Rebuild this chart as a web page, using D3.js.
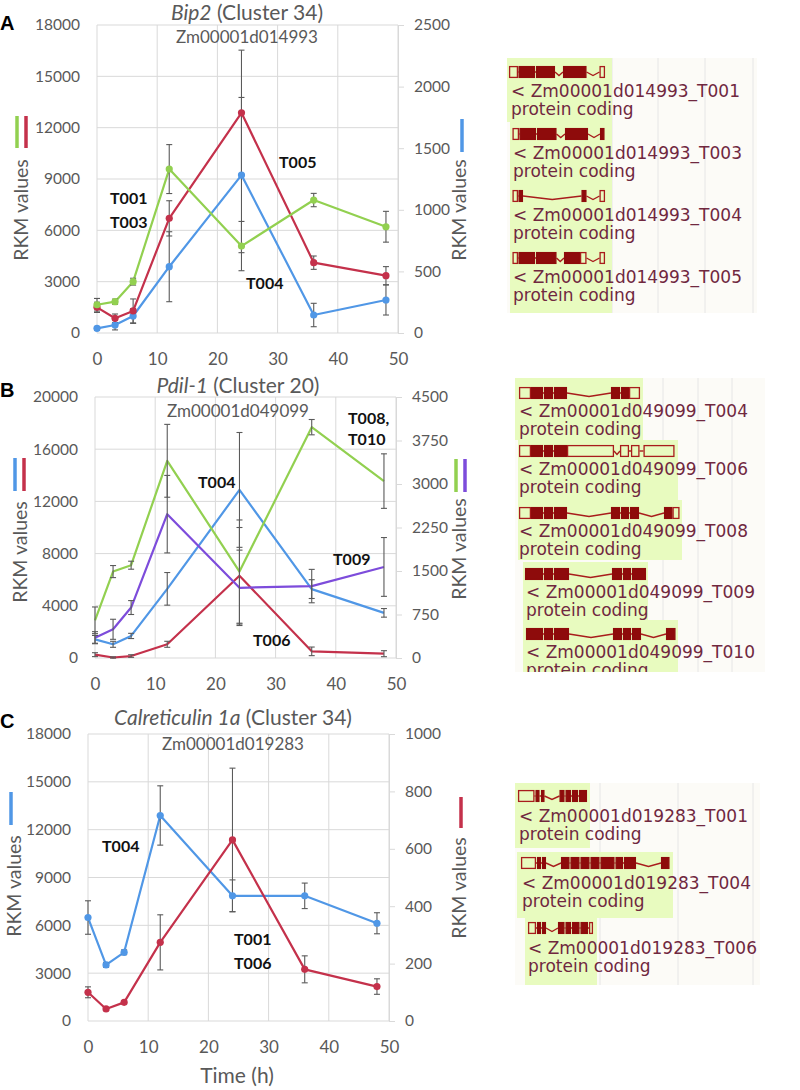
<!DOCTYPE html>
<html>
<head>
<meta charset="utf-8">
<script src="https://cdn.jsdelivr.net/npm/d3@7"></script>
<style>
  body { margin: 0; background: #fff; }
  svg text { font-family: Lato, "Open Sans", sans-serif; }
</style>
</head>
<body>
<svg id="fig" width="800" height="1090"></svg>
<script>
// ---------- data ----------
const hours = [0, 3, 6, 12, 24, 36, 48];
const xTicks = [0, 10, 20, 30, 40, 50];

// A  Bip2 (Zm00001d014993)
const bipT001 = [1650, 1830, 3000, 9580, 5080, 7770, 6210];
const bipT001Err = [370, 150, 200, 1430, 1440, 390, 900];
const bipT003 = [1500, 860, 1290, 6700, 12870, 4110, 3350];
const bipT003Err = [300, 250, 700, 1030, 3660, 390, 530];
const bipT004 = [38, 65, 138, 538, 1282, 146, 268];      // right axis
const bipT004Err = [15, 40, 60, 284, 630, 95, 122];
const bipLeftTicks = [0, 3000, 6000, 9000, 12000, 15000, 18000];
const bipRightTicks = [0, 500, 1000, 1500, 2000, 2500];

// B  Pdil-1 (Zm00001d049099)
const pdiT004 = [1430, 1050, 1690, 5300, 12880, 5280, 3460];
const pdiT004Err = [300, 230, 200, 1250, 4400, 720, 330];
const pdiT006 = [256, 40, 150, 1050, 6300, 510, 330];
const pdiT006Err = [150, 50, 100, 230, 3700, 330, 230];
const pdiT008 = [650, 1490, 1600, 3400, 1490, 3980, 3050];  // right axis
const pdiT008Err = [230, 104, 69, 628, 890, 132, 470];
const pdiT009 = [350, 495, 870, 2480, 1210, 1240, 1570];    // right axis
const pdiT009Err = [104, 173, 120, 668, 650, 288, 507];
const pdiLeftTicks = [0, 4000, 8000, 12000, 16000, 20000];
const pdiRightTicks = [0, 750, 1500, 2250, 3000, 3750, 4500];

// C  Calreticulin 1a (Zm00001d019283)
const crtT004 = [6490, 3520, 4310, 12890, 7850, 7850, 6130];
const crtT004Err = [1050, 150, 150, 1860, 1000, 800, 660];
const crtT001 = [100, 42, 65, 274, 631, 180, 120];          // right axis
const crtT001Err = [19, 5, 5, 96, 250, 47, 27];
const crtLeftTicks = [0, 3000, 6000, 9000, 12000, 15000, 18000];
const crtRightTicks = [0, 200, 400, 600, 800, 1000];

// gene models: [kind, start, end]  (u = UTR, c = coding exon)
const bipModels = [
  { id: 'Zm00001d014993_T001', parts: [['u', 0, 9], ['c', 9.5, 26], ['c', 27, 46], ['c', 54, 77.5], ['u', 90.5, 96]] },
  { id: 'Zm00001d014993_T003', parts: [['u', 3.5, 10], ['c', 10.5, 27], ['c', 28, 47.5], ['c', 56, 79], ['c', 91, 95.5]] },
  { id: 'Zm00001d014993_T004', parts: [['u', 3.5, 9], ['c', 9.5, 14], ['c', 72.5, 77.5], ['u', 90.5, 96]] },
  { id: 'Zm00001d014993_T005', parts: [['u', 3.5, 9], ['c', 9.5, 26], ['c', 27, 47.5], ['c', 55, 71], ['u', 71, 77.5], ['u', 90.5, 96]] }
];
const pdiModels = [
  { id: 'Zm00001d049099_T004', parts: [['u', 1, 13], ['c', 13, 25], ['c', 26, 35], ['c', 36, 49], ['c', 93, 102], ['c', 103, 111], ['u', 111, 122]] },
  { id: 'Zm00001d049099_T006', parts: [['u', 1, 13], ['c', 13, 25], ['c', 26, 35], ['c', 36, 49], ['u', 49, 96], ['u', 102, 111], ['u', 113, 121.5], ['u', 125.5, 156.5]] },
  { id: 'Zm00001d049099_T008', parts: [['u', 1, 13], ['c', 13, 25], ['c', 26, 35], ['c', 36, 49], ['c', 93, 102], ['c', 103, 111], ['c', 112, 121], ['c', 146, 154.5], ['u', 154.5, 161.5]] },
  { id: 'Zm00001d049099_T009', parts: [['c', 7, 25], ['c', 26, 35], ['c', 36, 51], ['c', 94, 104], ['c', 105, 113], ['c', 114, 128]] },
  { id: 'Zm00001d049099_T010', parts: [['c', 8, 25], ['c', 26, 35], ['c', 36, 51], ['c', 95, 104], ['c', 105, 113], ['c', 114, 123], ['c', 148, 157.5]] }
];
const crtModels = [
  { id: 'Zm00001d019283_T001', parts: [['u', 0, 16.5], ['c', 17.5, 21.5], ['c', 23, 26.5], ['c', 41.5, 46.5], ['c', 47.5, 53], ['c', 54, 60], ['c', 61, 69]] },
  { id: 'Zm00001d019283_T004', parts: [['u', 3, 18], ['c', 19, 23], ['c', 24, 28], ['c', 43, 51.5], ['c', 52.5, 61.5], ['c', 62.5, 71.5], ['c', 72.5, 81.5], ['c', 82.5, 96.5], ['c', 97.5, 105], ['c', 106, 118], ['c', 143, 151.5]] },
  { id: 'Zm00001d019283_T006', parts: [['u', 10, 18], ['c', 19, 23], ['c', 24, 28], ['c', 40, 46.5], ['c', 47.5, 53], ['c', 54, 61.5], ['c', 62.5, 70], ['u', 71, 75]] }
];

// ---------- styles ----------
const GREEN = '#92d050', RED = '#c4314b', BLUE = '#5097e6', PURPLE = '#7d4cdb';
const GRID = '#d9d9d9', AXIS_TXT = '#595959';
const EXON = '#8e0b0b', EXON_LINE = '#a81c1c', GENE_TXT = '#70283f';
const HILITE = '#e8fbbf', TRACK_BG = '#fcfbf7';

const svg = d3.select('#fig');
const fmt = d3.format('d');

// ---------- chart panels ----------
function drawPanel(cfg) {
  const g = svg.append('g');
  const x = d3.scaleLinear().domain([0, 50]).range([cfg.left, cfg.right]);
  const yL = d3.scaleLinear().domain([0, d3.max(cfg.leftTicks)]).range([cfg.bottom, cfg.top]);
  const yR = d3.scaleLinear().domain([0, d3.max(cfg.rightTicks)]).range([cfg.bottom, cfg.top]);

  g.selectAll('.hgrid').data(cfg.leftTicks).join('line')
    .attr('x1', cfg.left).attr('x2', cfg.right)
    .attr('y1', d => yL(d)).attr('y2', d => yL(d))
    .attr('stroke', GRID).attr('stroke-width', 1);
  g.selectAll('.vgrid').data(xTicks).join('line')
    .attr('x1', d => x(d)).attr('x2', d => x(d))
    .attr('y1', cfg.top).attr('y2', cfg.bottom)
    .attr('stroke', GRID).attr('stroke-width', 1);

  const left = g.append('g').attr('transform', `translate(${cfg.left},0)`)
    .call(d3.axisLeft(yL).tickValues(cfg.leftTicks).tickFormat(fmt).tickSize(0).tickPadding(17));
  left.select('.domain').remove();

  const right = g.append('g').attr('transform', `translate(${cfg.right},0)`)
    .call(d3.axisRight(yR).tickValues(cfg.rightTicks).tickFormat(fmt).tickSize(6).tickSizeOuter(0).tickPadding(10));
  right.select('.domain').attr('stroke', GRID);
  right.selectAll('.tick line').attr('stroke', GRID);

  const bottom = g.append('g').attr('transform', `translate(0,${cfg.bottom})`)
    .call(d3.axisBottom(x).tickValues(xTicks).tickFormat(fmt).tickSize(0).tickPadding(20));
  bottom.select('.domain').remove();

  g.selectAll('.tick text').attr('fill', AXIS_TXT).style('font-size', '15.5px')
    .style('font-family', 'Lato, sans-serif');
  bottom.selectAll('.tick text').style('font-size', '17px');

  cfg.series.forEach(s => {
    const y = s.axis === 'right' ? yR : yL;
    const pts = hours.map((t, i) => ({ t, v: s.values[i], e: s.err[i] }));
    g.append('path').datum(pts)
      .attr('fill', 'none').attr('stroke', s.color).attr('stroke-width', 2.2)
      .attr('stroke-linejoin', 'round')
      .attr('d', d3.line().x(d => x(d.t)).y(d => y(d.v)));
    s.pts = pts; s.y = y;
  });

  cfg.series.forEach(s => {
    const eb = g.append('g').attr('stroke', '#5a5a5a').attr('stroke-width', 1.1);
    eb.selectAll('.bar').data(s.pts).join('line')
      .attr('x1', d => x(d.t)).attr('x2', d => x(d.t))
      .attr('y1', d => s.y(d.v - d.e)).attr('y2', d => s.y(d.v + d.e));
    eb.selectAll('.capTop').data(s.pts).join('line')
      .attr('x1', d => x(d.t) - 3).attr('x2', d => x(d.t) + 3)
      .attr('y1', d => s.y(d.v + d.e)).attr('y2', d => s.y(d.v + d.e));
    eb.selectAll('.capBot').data(s.pts).join('line')
      .attr('x1', d => x(d.t) - 3).attr('x2', d => x(d.t) + 3)
      .attr('y1', d => s.y(d.v - d.e)).attr('y2', d => s.y(d.v - d.e));
  });

  if (cfg.markers) {
    cfg.series.forEach(s => {
      g.selectAll(null).data(s.pts).join('circle')
        .attr('cx', d => x(d.t)).attr('cy', d => s.y(d.v)).attr('r', 3.6)
        .attr('fill', s.color);
    });
  }

  // titles
  const title = g.append('text').attr('x', cfg.titleX).attr('y', cfg.titleY)
    .attr('text-anchor', 'middle').attr('fill', AXIS_TXT).style('font-size', '21px');
  title.append('tspan').attr('font-style', 'italic').text(cfg.title[0]);
  title.append('tspan').text(cfg.title[1]);
  g.append('text').attr('x', cfg.titleX).attr('y', cfg.subY)
    .attr('text-anchor', 'middle').attr('fill', AXIS_TXT).style('font-size', '17px')
    .text(cfg.sub);

  g.append('text').attr('x', 0).attr('y', cfg.letterY)
    .style('font-family', '"Liberation Sans", Arial, sans-serif')
    .style('font-size', '20px').style('font-weight', 'bold').text(cfg.letter);

  // axis titles with colour keys
  [cfg.leftLabel, cfg.rightLabel].forEach(p => {
    g.append('text').attr('transform', `translate(${p[0]},${p[1]}) rotate(-90)`)
      .attr('text-anchor', 'middle').attr('dy', '0.35em')
      .attr('fill', AXIS_TXT).style('font-size', '19.5px').text('RKM values');
  });
  cfg.keys.forEach(k => {
    g.append('line').attr('x1', k.x).attr('x2', k.x).attr('y1', k.y1).attr('y2', k.y2)
      .attr('stroke', k.color).attr('stroke-width', 3.5);
  });

  cfg.labels.forEach(l => {
    g.append('text').attr('x', l[1]).attr('y', l[2])
      .style('font-size', '16px').style('font-weight', 'bold').attr('fill', '#111')
      .text(l[0]);
  });

  if (cfg.xTitle) {
    g.append('text').attr('x', cfg.xTitle[1]).attr('y', cfg.xTitle[2])
      .attr('text-anchor', 'middle').attr('fill', AXIS_TXT).style('font-size', '21px')
      .text(cfg.xTitle[0]);
  }
}

drawPanel({
  left: 97, right: 398, top: 25, bottom: 333,
  leftTicks: bipLeftTicks, rightTicks: bipRightTicks, markers: true,
  series: [
    { values: bipT004, err: bipT004Err, color: BLUE, axis: 'right' },
    { values: bipT003, err: bipT003Err, color: RED, axis: 'left' },
    { values: bipT001, err: bipT001Err, color: GREEN, axis: 'left' }
  ],
  title: ['Bip2', ' (Cluster 34)'], titleX: 247, titleY: 20, sub: 'Zm00001d014993', subY: 43,
  letter: 'A', letterY: 30,
  leftLabel: [21, 210], rightLabel: [459, 210],
  keys: [{ x: 17, y1: 116, y2: 148, color: GREEN }, { x: 26, y1: 116, y2: 148, color: RED },
         { x: 462, y1: 119, y2: 152, color: BLUE }],
  labels: [['T001', 110, 204], ['T003', 110, 228], ['T005', 279, 168], ['T004', 246, 289]]
});

drawPanel({
  left: 95, right: 396, top: 397, bottom: 658,
  leftTicks: pdiLeftTicks, rightTicks: pdiRightTicks, markers: false,
  series: [
    { values: pdiT006, err: pdiT006Err, color: RED, axis: 'left' },
    { values: pdiT004, err: pdiT004Err, color: BLUE, axis: 'left' },
    { values: pdiT009, err: pdiT009Err, color: PURPLE, axis: 'right' },
    { values: pdiT008, err: pdiT008Err, color: GREEN, axis: 'right' }
  ],
  title: ['Pdil-1', ' (Cluster 20)'], titleX: 238, titleY: 393, sub: 'Zm00001d049099', subY: 417,
  letter: 'B', letterY: 397,
  leftLabel: [20, 552], rightLabel: [459, 549],
  keys: [{ x: 15, y1: 458, y2: 491, color: BLUE }, { x: 24, y1: 458, y2: 491, color: RED },
         { x: 456, y1: 459, y2: 492, color: GREEN }, { x: 465, y1: 459, y2: 492, color: PURPLE }],
  labels: [['T008,', 348, 424], ['T010', 348, 445], ['T004', 198, 488], ['T009', 333, 565], ['T006', 253, 646]]
});

drawPanel({
  left: 88, right: 389, top: 734, bottom: 1021,
  leftTicks: crtLeftTicks, rightTicks: crtRightTicks, markers: true,
  series: [
    { values: crtT004, err: crtT004Err, color: BLUE, axis: 'left' },
    { values: crtT001, err: crtT001Err, color: RED, axis: 'right' }
  ],
  title: ['Calreticulin 1a', ' (Cluster 34)'], titleX: 233, titleY: 725, sub: 'Zm00001d019283', subY: 750,
  letter: 'C', letterY: 728,
  leftLabel: [14, 886], rightLabel: [459, 888],
  keys: [{ x: 11, y1: 792, y2: 825, color: BLUE }, { x: 461, y1: 797, y2: 828, color: RED }],
  labels: [['T004', 102, 852], ['T001', 234, 945], ['T006', 234, 969]],
  xTitle: ['Time (h)', 237, 1083]
});

// ---------- gene model tracks ----------
function drawTrack(cfg, idx) {
  const g = svg.append('g');
  const clipId = 'clip' + idx;
  g.append('clipPath').attr('id', clipId).append('rect')
    .attr('x', cfg.bg[0]).attr('y', cfg.bg[1]).attr('width', cfg.bg[2]).attr('height', cfg.bg[3]);
  const c = g.append('g').attr('clip-path', `url(#${clipId})`);

  c.append('rect').attr('x', cfg.bg[0]).attr('y', cfg.bg[1])
    .attr('width', cfg.bg[2]).attr('height', cfg.bg[3]).attr('fill', TRACK_BG);
  c.selectAll('.vl').data(cfg.lines).join('line')
    .attr('x1', d => d).attr('x2', d => d).attr('y1', cfg.bg[1]).attr('y2', cfg.bg[1] + cfg.bg[3])
    .attr('stroke', '#e6e6e6');
  c.selectAll('.hl').data(cfg.greens).join('rect')
    .attr('x', d => d[0]).attr('y', d => d[1]).attr('width', d => d[2]).attr('height', d => d[3])
    .attr('fill', HILITE);

  const gx = d3.scaleLinear().domain([0, 160]).range([cfg.x0, cfg.x0 + 160]);
  const h = 12;

  cfg.models.forEach((m, i) => {
    const top = cfg.tops[i], mid = top + h / 2;
    const row = c.append('g');
    m.parts.forEach((p, j) => {
      if (j > 0) {
        const prev = m.parts[j - 1][2], next = p[1];
        if (next - prev > 4) {
          row.append('polyline')
            .attr('points', `${gx(prev)},${mid} ${gx((prev + next) / 2)},${mid + 3.5} ${gx(next)},${mid}`)
            .attr('fill', 'none').attr('stroke', EXON_LINE).attr('stroke-width', 1.4);
        } else if (next > prev) {
          row.append('line').attr('x1', gx(prev)).attr('x2', gx(next)).attr('y1', mid).attr('y2', mid)
            .attr('stroke', EXON_LINE).attr('stroke-width', 1.4);
        }
      }
    });
    row.selectAll('rect').data(m.parts).join('rect')
      .attr('x', d => gx(d[1]) + 0.6).attr('y', top + 0.6)
      .attr('width', d => Math.max(gx(d[2]) - gx(d[1]) - 1.2, 0.5)).attr('height', h - 1.2)
      .attr('fill', d => d[0] === 'c' ? EXON : 'none')
      .attr('stroke', d => d[0] === 'c' ? EXON : EXON_LINE).attr('stroke-width', 1.3);

    const tx = cfg.textX[i];
    c.append('text').attr('x', tx).attr('y', top + cfg.nameDy)
      .style('font-family', '"DejaVu Sans", Verdana, sans-serif').style('font-size', '17px')
      .attr('fill', GENE_TXT).text('< ' + m.id);
    c.append('text').attr('x', tx).attr('y', top + cfg.typeDy)
      .style('font-family', '"DejaVu Sans", Verdana, sans-serif').style('font-size', '17px')
      .attr('fill', GENE_TXT).text('protein coding');
  });
}

drawTrack({
  models: bipModels, x0: 509, tops: [66, 128, 190, 252], textX: [511, 513, 513, 513],
  nameDy: 31, typeDy: 49,
  bg: [507, 58, 250, 255], lines: [612, 658, 705, 753],
  greens: [[507, 58, 105, 64], [510, 122, 102, 191]]
}, 0);

drawTrack({
  models: pdiModels, x0: 518, tops: [387, 445, 507, 568, 628], textX: [519, 519, 519, 526, 526],
  nameDy: 30, typeDy: 48,
  bg: [515, 378, 250, 294], lines: [663, 698, 732],
  greens: [[515, 378, 128, 62], [518, 440, 160, 60], [518, 500, 164, 60], [523, 562, 125, 58], [523, 620, 155, 52]]
}, 1);

drawTrack({
  models: crtModels, x0: 518, tops: [790, 857, 922], textX: [519, 522, 528],
  nameDy: 32, typeDy: 50,
  bg: [515, 783, 245, 202], lines: [600, 678, 753],
  greens: [[515, 783, 75, 65], [517, 852, 156, 66], [525, 918, 72, 67]]
}, 2);
</script>
</body>
</html>
